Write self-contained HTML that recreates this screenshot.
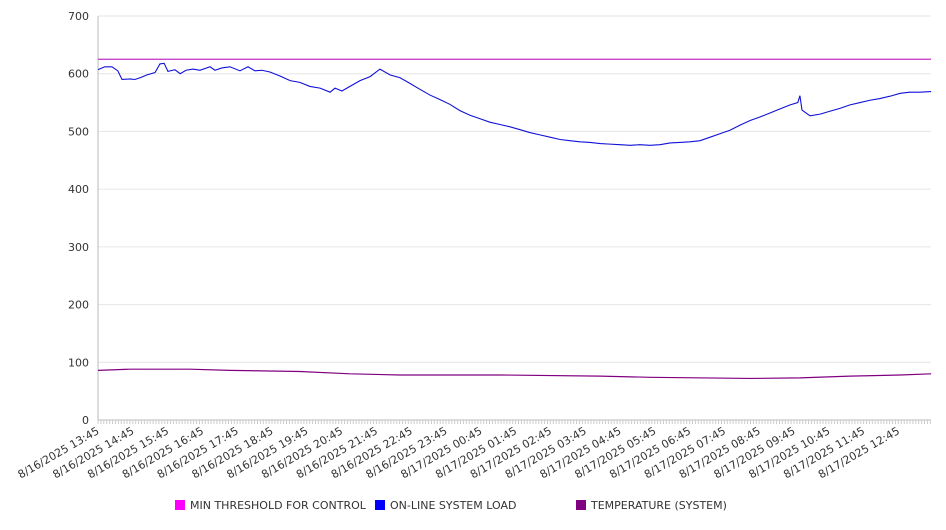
<!DOCTYPE html>
<html><head><meta charset="utf-8"><style>
body{margin:0;background:#fff;font-family:"DejaVu Sans","Liberation Sans",sans-serif;}
svg text{font-family:"DejaVu Sans","Liberation Sans",sans-serif;}
</style></head><body>
<svg id="chart" width="946" height="526" xmlns="http://www.w3.org/2000/svg"></svg>
<script>
const xLabels=["8/16/2025 13:45","8/16/2025 14:45","8/16/2025 15:45","8/16/2025 16:45","8/16/2025 17:45","8/16/2025 18:45","8/16/2025 19:45","8/16/2025 20:45","8/16/2025 21:45","8/16/2025 22:45","8/16/2025 23:45","8/17/2025 00:45","8/17/2025 01:45","8/17/2025 02:45","8/17/2025 03:45","8/17/2025 04:45","8/17/2025 05:45","8/17/2025 06:45","8/17/2025 07:45","8/17/2025 08:45","8/17/2025 09:45","8/17/2025 10:45","8/17/2025 11:45","8/17/2025 12:45"];
const yTicks=[0,100,200,300,400,500,600,700];
const thresholdValue=625;
const loadHours=[0,0.2,0.4,0.57,0.69,0.92,1.06,1.21,1.41,1.64,1.78,1.9,2.01,2.21,2.36,2.53,2.73,2.93,3.22,3.36,3.56,3.79,4.08,4.31,4.51,4.71,4.94,5.23,5.52,5.8,6.09,6.38,6.67,6.81,7.01,7.24,7.53,7.82,8.1,8.39,8.68,8.97,9.25,9.54,9.83,10.11,10.4,10.69,10.98,11.26,11.55,11.84,12.13,12.41,12.7,12.99,13.28,13.56,13.85,14.14,14.43,14.71,15.0,15.29,15.57,15.86,16.15,16.44,16.72,17.01,17.3,17.59,17.87,18.16,18.45,18.74,19.02,19.31,19.6,19.89,20.11,20.17,20.23,20.46,20.75,21.03,21.32,21.61,21.9,22.18,22.47,22.76,23.05,23.33,23.62,23.94];
const loadValues=[607,612,612,605,590,591,590,593,598,602,617,618,604,607,600,606,608,606,612,606,610,612,605,612,605,606,603,596,588,585,578,575,568,575,570,578,588,595,608,598,593,583,573,563,555,547,536,528,522,516,512,508,503,498,494,490,486,484,482,481,479,478,477,476,477,476,477,480,481,482,484,490,496,502,511,519,525,532,539,546,550,562,537,527,530,535,540,546,550,554,557,561,566,568,568,569];
const tempHours=[0,0.92,2.64,3.79,5.8,7.24,8.68,11.55,14.43,15.86,18.74,20.17,21.61,23.05,23.94];
const tempValues=[86,88,88,86,84,80,78,78,76,74,72,73,76,78,80];

const svg=document.getElementById('chart');
const NS='http://www.w3.org/2000/svg';
const X0=98,X1=931,Y0=420,Y1=16,HPX=34.8,VMAX=700;
const HMAX=(X1-X0)/HPX;
const xs=h=>X0+h*HPX;
const ys=v=>Y0-(v/VMAX)*(Y0-Y1);
function mk(tag,attrs){const e=document.createElementNS(NS,tag);for(const k in attrs)e.setAttribute(k,attrs[k]);svg.appendChild(e);return e;}

yTicks.forEach(v=>{
  const g=mk('line',{x1:X0,x2:X1,y1:ys(v),y2:ys(v),stroke:v===0?'#bbb':'#e6e6e6','stroke-width':1});
  
  
  const t=mk('text',{x:X0-9,y:ys(v)+4,'text-anchor':'end','font-size':11,fill:'#333'});
  t.textContent=v;
  
  
});
const ax=mk('line',{x1:X0,x2:X0,y1:Y1,y2:Y0,stroke:'#bbb'});


for(let m=0;m<=HMAX*12;m++){
  const tk=mk('line',{x1:xs(m/12),x2:xs(m/12),y1:Y0,y2:Y0+4,stroke:'#ccc'});
  
  
}
xLabels.forEach((l,i)=>{
  const x=xs(i)+2,y=Y0+13;
  const t=mk('text',{x:x,y:y,'text-anchor':'end','font-size':11,fill:'#333',transform:`rotate(-30 ${x} ${y})`});
  t.textContent=l;
  
  
});
const th=mk('line',{x1:X0,x2:X1,y1:ys(thresholdValue),y2:ys(thresholdValue),stroke:'#c030c8','stroke-width':1.2});


const lp=mk('polyline',{points:loadHours.map((h,i)=>xs(h)+','+ys(loadValues[i])).join(' '),fill:'none',stroke:'#1010d8','stroke-width':1.1});


const tp=mk('polyline',{points:tempHours.map((h,i)=>xs(h)+','+ys(tempValues[i])).join(' '),fill:'none',stroke:'#800080','stroke-width':1.2});



const legend=[["MIN THRESHOLD FOR CONTROL","#ff00ff",175],["ON-LINE SYSTEM LOAD","#0000ff",375],["TEMPERATURE (SYSTEM)","#800080",576]];
legend.forEach(([n,c,x])=>{
  const r=mk('rect',{x:x,y:500,width:10,height:10,fill:c});
  
  
  const t=mk('text',{x:x+15,y:509,'font-size':11,fill:'#333'});
  t.textContent=n;
  
  
});
</script>
</body></html>
